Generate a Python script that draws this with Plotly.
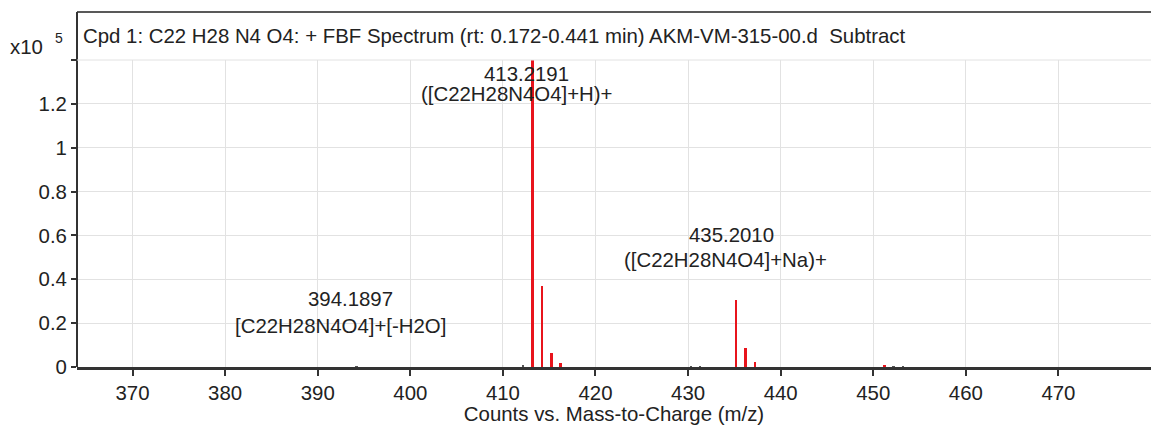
import plotly.graph_objects as go

# Peak list (m/z, counts x10^5)
red_mz = [413.2191, 414.222, 415.225, 416.23, 435.2010, 436.204, 437.207, 451.2]
red_int = [1.41, 0.37, 0.065, 0.018, 0.305, 0.087, 0.024, 0.010]
minor_mz = [394.1897, 412.2, 430.3, 431.3, 452.2, 453.2]
minor_int = [0.004, 0.005, 0.003, 0.003, 0.003, 0.003]

x_ticks = [370, 380, 390, 400, 410, 420, 430, 440, 450, 460, 470]
y_ticks = [0, 0.2, 0.4, 0.6, 0.8, 1, 1.2, 1.4]
y_tick_text = ["0", "0.2", "0.4", "0.6", "0.8", "1", "1.2", ""]

labels_mz = ["413.2191", "435.2010", "394.1897"]
labels_ion = ["([C22H28N4O4]+H)+", "([C22H28N4O4]+Na)+", "[C22H28N4O4]+[-H2O]"]
label_peak_x = [413.2191, 435.2010, 394.1897]
label_y = [1.338, 0.602, 0.31]
label_ion_y = [1.245, 0.488, 0.187]
label_dx = [-6, -5, -6]
label_ion_dx = [-16, -11, -16]

title_text = "Cpd 1: C22 H28 N4 O4: + FBF Spectrum (rt: 0.172-0.441 min) AKM-VM-315-00.d  Subtract"

FONT = "Liberation Sans, Arial, sans-serif"
FS = 20.4
W, H = 1151, 425
ML, MR, MT, MB = 77, 0, 60, 58
plot_h = H - MT - MB
frame_top = 1 + (MT - 12) / plot_h

fig = go.Figure()
fig.add_trace(go.Bar(x=minor_mz, y=minor_int, width=0.25,
                     marker=dict(color="#555555", line=dict(width=0)), showlegend=False))
fig.add_trace(go.Bar(x=red_mz, y=red_int, width=0.27,
                     marker=dict(color="#e8141c", line=dict(width=0)), showlegend=False))

for px, my, iy, lm, li, dx, dxi in zip(label_peak_x, label_y, label_ion_y, labels_mz, labels_ion, label_dx, label_ion_dx):
    fig.add_annotation(x=px, y=my, xref="x", yref="y", text=lm, showarrow=False,
                       xshift=dx, font=dict(family=FONT, size=FS, color="#222"))
    fig.add_annotation(x=px, y=iy, xref="x", yref="y", text=li, showarrow=False,
                       xshift=dxi, font=dict(family=FONT, size=FS, color="#222"))

# Header frame
fig.add_shape(type="line", xref="paper", yref="paper", x0=0, x1=1.0, y0=frame_top, y1=frame_top,
              line=dict(color="#222", width=1.5))
fig.add_shape(type="line", xref="paper", yref="paper", x0=0, x1=0, y0=0, y1=frame_top,
              line=dict(color="#333", width=2))
fig.add_shape(type="line", xref="paper", yref="paper", x0=0, x1=1, y0=1, y1=1,
              line=dict(color="#e2e2e2", width=1))

fig.add_annotation(x=0, y=1 + (MT - 36) / plot_h, xref="paper", yref="paper", text=title_text,
                   showarrow=False, xanchor="left", yanchor="middle", xshift=4,
                   font=dict(family=FONT, size=FS, color="#222"))
fig.add_annotation(x=0, y=1 + (MT - 47) / plot_h, xref="paper", yref="paper", text="x10",
                   showarrow=False, xanchor="left", yanchor="middle", xshift=-69,
                   font=dict(family=FONT, size=FS, color="#222"))
fig.add_annotation(x=0, y=1 + (MT - 38) / plot_h, xref="paper", yref="paper", text="5",
                   showarrow=False, xanchor="left", yanchor="middle", xshift=-24,
                   font=dict(family=FONT, size=14, color="#222"))

fig.update_layout(
    width=W, height=H,
    margin=dict(l=ML, r=MR, t=MT, b=MB),
    paper_bgcolor="white", plot_bgcolor="white",
    bargap=0, barmode="overlay",
    font=dict(family=FONT, size=FS, color="#222"),
)
fig.update_xaxes(range=[364, 480], tickvals=x_ticks, ticks="outside", ticklen=6, tickwidth=1.5,
                 tickcolor="#333", showgrid=True, gridcolor="#e2e2e2", gridwidth=1,
                 showline=True, linecolor="#333", linewidth=3, zeroline=False,
                 tickfont=dict(family=FONT, size=FS, color="#222"),
                 title=dict(text="Counts vs. Mass-to-Charge (m/z)", standoff=2,
                            font=dict(family=FONT, size=FS, color="#222")))
fig.update_yaxes(range=[0, 1.4], tickvals=y_ticks, ticktext=y_tick_text, ticks="outside",
                 ticklen=5, tickwidth=1.5, tickcolor="#333", showgrid=True, gridcolor="#e2e2e2",
                 gridwidth=1, showline=False, zeroline=False,
                 tickfont=dict(family=FONT, size=FS, color="#222"))

fig.write_html("out.html")
